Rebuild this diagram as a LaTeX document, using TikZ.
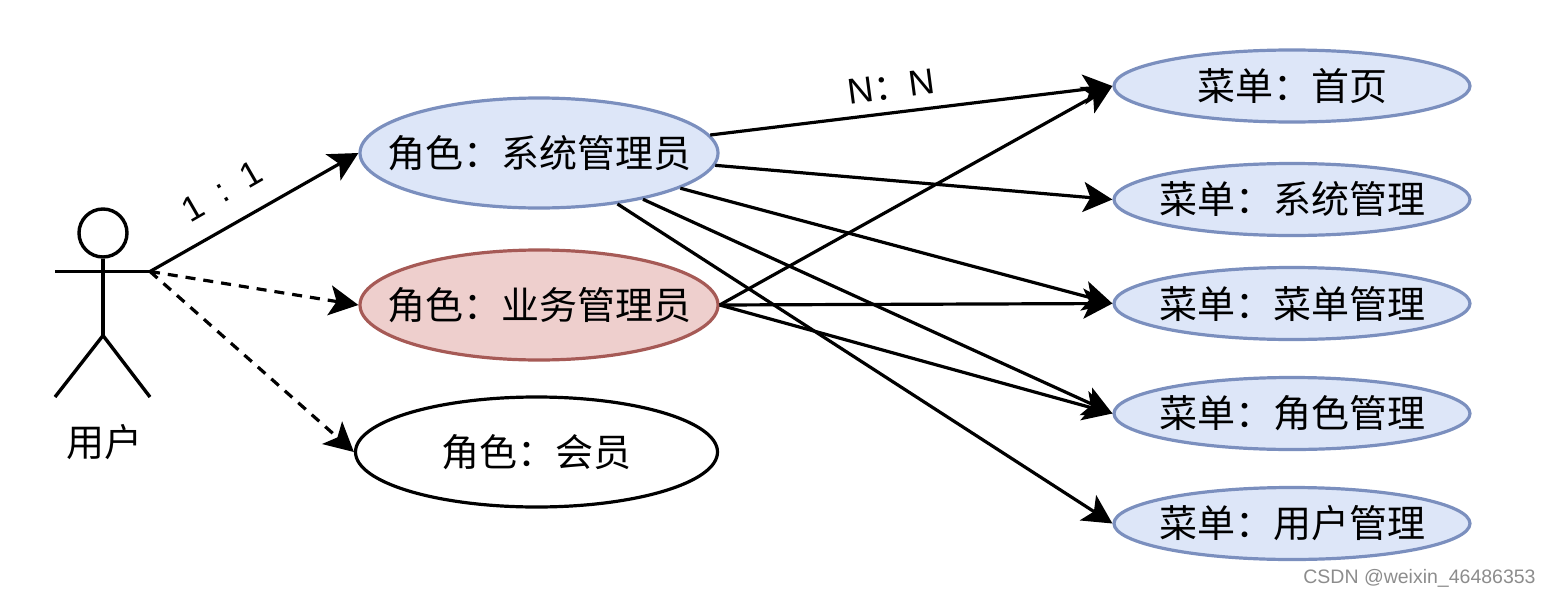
\documentclass[tikz,border=0pt]{standalone}
\usepackage{fontspec}
\setmainfont{Liberation Sans}
\newfontfamily\cjk{Noto Sans CJK SC}
\usetikzlibrary{shapes.geometric,arrows.meta}
\definecolor{bluefill}{HTML}{DDE6F8}
\definecolor{blueline}{HTML}{7B8FBE}
\definecolor{redfill}{HTML}{EECFCD}
\definecolor{redline}{HTML}{A65A56}
\newcommand{\ctext}[1]{\makebox[0pt]{#1}}
\tikzset{
  cjktext/.style={font=\fontsize{38}{40}\selectfont\cjk},
  oval/.style={ellipse,draw,line width=3.2pt,inner sep=0pt,cjktext},
  rolebox/.style={oval,minimum width=358pt,minimum height=110pt},
  menubox/.style={oval,draw=blueline,fill=bluefill,minimum width=356pt,minimum height=72pt},
  link/.style={line width=3.2pt,-{Stealth[length=29pt,width=30pt,inset=7pt]}},
  dlink/.style={link,dash pattern=on 10pt off 8pt},
  stick/.style={line width=3.4pt},
  edgelabel/.style={font=\fontsize{35}{38}\selectfont}
}
\begin{document}
\begin{tikzpicture}[x=1pt,y=-1pt]
\useasboundingbox (0,0) rectangle (1550,597);
% actor
\node[circle,draw,stick,minimum size=48pt,inner sep=0pt] (head) at (103,233) {};
\coordinate (hand) at (150,271.5);
\coordinate (lefthand) at (55,271.5);
\coordinate (hip) at (103,335.5);
\coordinate (lfoot) at (55,397);
\coordinate (rfoot) at (150,397);
\draw[stick] (lefthand) -- (hand);
\draw[stick] (head.south) -- (hip);
\draw[stick] (lfoot) -- (hip) -- (rfoot);
\node[cjktext] (user) at (104.5,442) {用户};
% roles
\node[rolebox,draw=blueline,fill=bluefill] (sys) at (539,153) {\ctext{角色：系统管理员}};
\node[rolebox,draw=redline,fill=redfill] (biz) at (539,305) {\ctext{角色：业务管理员}};
\node[oval,minimum width=362pt,minimum height=110pt] (mem) at (536.5,452) {\ctext{角色：会员}};
% menus
\node[menubox] (m1) at (1292,86) {\ctext{菜单：首页}};
\node[menubox] (m2) at (1292,199.5) {\ctext{菜单：系统管理}};
\node[menubox] (m3) at (1292,303.5) {\ctext{菜单：菜单管理}};
\node[menubox] (m4) at (1292,413.5) {\ctext{菜单：角色管理}};
\node[menubox] (m5) at (1292,523.5) {\ctext{菜单：用户管理}};
% connectors
\draw[link] (hand) -- (sys.west);
\draw[dlink] (hand) -- (biz.west);
\draw[dlink] (hand) -- (mem.west);
\draw[link] (sys.6.8) -- (m1.west);
\draw[link] (sys.-4.6) -- (m2.west);
\draw[link] (sys.-14.7) -- (m3.west);
\draw[link] (sys.-24) -- (m4.west);
\draw[link] (sys.-33.2) -- (m5.west);
\draw[link] (biz.east) -- (m1.west);
\draw[link] (biz.east) -- (m3.west);
\draw[link] (biz.east) -- (m4.west);
% labels
\node[edgelabel,rotate=30] (l11) at (222,191) {1\hspace{0.55em}:\hspace{0.55em}1};
\node[edgelabel,rotate=7.5,font=\fontsize{36}{38}\selectfont] (lnn) at (891.5,87) {N{\cjk：}N};
\node[font=\fontsize{19.5}{22}\selectfont,text=black!45] (mark) at (1419.5,578) {CSDN @weixin\_46486353};
\end{tikzpicture}
\end{document}
